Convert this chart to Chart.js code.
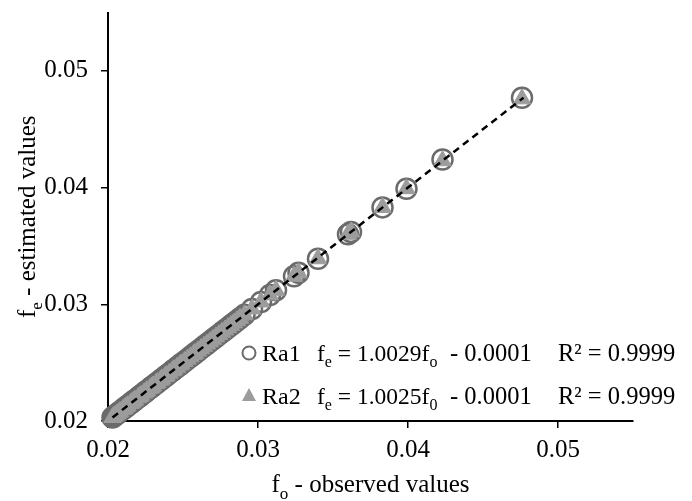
<!DOCTYPE html>
<html><head><meta charset="utf-8">
<script src="https://cdn.jsdelivr.net/npm/chart.js@4/dist/chart.umd.min.js"></script>
<style>html,body{margin:0;padding:0;background:#fff;}canvas{display:block;}</style>
</head><body>
<canvas id="c" width="692" height="501"></canvas>
<script>
// ---- data ----
const ra1X = [0.0203,0.0204,0.0205,0.0206,0.0207,0.0208,0.0210,0.0211,0.0212,0.0213,0.0215,0.0216,0.0217,0.0218,0.0220,0.0221,0.0222,0.0224,0.0225,0.0226,0.0228,0.0229,0.0230,0.0232,0.0233,0.0235,0.0236,0.0238,0.0239,0.0241,0.0243,0.0244,0.0246,0.0248,0.0249,0.0251,0.0253,0.0255,0.0257,0.0258,0.0260,0.0262,0.0264,0.0266,0.0268,0.0270,0.0272,0.0274,0.0276,0.0278,0.0280,0.0282,0.0284,0.0286,0.0288,0.0291,0.0296,0.0302,0.0308,0.0312,0.0324,0.0327,0.0340,0.0360,0.0362,0.0383,0.0399,0.0423,0.0476];
const ra1Y = [0.0203,0.0204,0.0205,0.0206,0.0207,0.0208,0.0210,0.0211,0.0212,0.0213,0.0215,0.0216,0.0217,0.0218,0.0220,0.0221,0.0222,0.0224,0.0225,0.0226,0.0228,0.0229,0.0230,0.0232,0.0233,0.0235,0.0236,0.0238,0.0239,0.0241,0.0243,0.0244,0.0246,0.0248,0.0249,0.0251,0.0253,0.0255,0.0257,0.0258,0.0260,0.0262,0.0264,0.0266,0.0268,0.0270,0.0272,0.0274,0.0276,0.0278,0.0280,0.0282,0.0284,0.0286,0.0288,0.0291,0.0296,0.0302,0.0308,0.0312,0.0324,0.0327,0.0339,0.0360,0.0362,0.0383,0.0399,0.0424,0.0477];
const ra2X = [0.0203,0.0204,0.0205,0.0206,0.0207,0.0208,0.0210,0.0211,0.0212,0.0213,0.0215,0.0216,0.0217,0.0218,0.0220,0.0221,0.0222,0.0224,0.0225,0.0226,0.0228,0.0229,0.0230,0.0232,0.0233,0.0235,0.0236,0.0238,0.0239,0.0241,0.0243,0.0244,0.0246,0.0248,0.0249,0.0251,0.0253,0.0255,0.0257,0.0258,0.0260,0.0262,0.0264,0.0266,0.0268,0.0270,0.0272,0.0274,0.0276,0.0278,0.0280,0.0282,0.0284,0.0286,0.0288,0.0291,0.0296,0.0302,0.0308,0.0312,0.0324,0.0327,0.0340,0.0360,0.0362,0.0383,0.0399,0.0423,0.0476];
const ra2Y = [0.0203,0.0204,0.0205,0.0206,0.0207,0.0208,0.0210,0.0211,0.0212,0.0213,0.0215,0.0216,0.0217,0.0218,0.0220,0.0221,0.0222,0.0224,0.0225,0.0226,0.0228,0.0229,0.0230,0.0232,0.0233,0.0235,0.0236,0.0238,0.0239,0.0241,0.0243,0.0244,0.0246,0.0248,0.0249,0.0251,0.0253,0.0255,0.0257,0.0258,0.0260,0.0262,0.0264,0.0266,0.0268,0.0270,0.0272,0.0274,0.0276,0.0278,0.0280,0.0282,0.0284,0.0286,0.0288,0.0291,0.0296,0.0302,0.0308,0.0312,0.0324,0.0327,0.0339,0.0360,0.0362,0.0383,0.0399,0.0423,0.0476];
const trendX = [0.0203, 0.0477];
const trendY = [0.0203, 0.0477];
const xTicks = [0.02, 0.03, 0.04, 0.05];
const yTicks = [0.02, 0.03, 0.04, 0.05];
const seriesNames = ['Ra1', 'Ra2'];

const FONT = 'Liberation Serif, Times New Roman, serif';
const toPts = (xs, ys) => xs.map((x, i) => ({x: x, y: ys[i]}));

function richWidth(ctx, parts, size, subSize) {
  let w = 0;
  parts.forEach(p => { ctx.font = (p.sub ? subSize : size) + 'px ' + FONT; w += ctx.measureText(p.t).width; });
  return w;
}
function drawRich(ctx, parts, x, y, size, subSize) {
  parts.forEach(p => {
    ctx.font = (p.sub ? subSize : size) + 'px ' + FONT;
    ctx.fillText(p.t, x, y + (p.sub ? Math.round(size * 0.27) : 0));
    x += ctx.measureText(p.t).width;
  });
  return x;
}

const textPlugin = {
  id: 'texts',
  afterDraw(chart) {
    const ctx = chart.ctx;
    const a = chart.chartArea;
    ctx.save();
    ctx.fillStyle = '#000';
    ctx.textBaseline = 'alphabetic';
    ctx.textAlign = 'left';
    // x title
    const xt = [{t:'f'},{t:'o',sub:true},{t:' - observed values'}];
    let w = richWidth(ctx, xt, 25, 17);
    drawRich(ctx, xt, (a.left + a.right) / 2 - w / 2, 492, 25, 17);
    // y title
    const yt = [{t:'f'},{t:'e',sub:true},{t:' - estimated values'}];
    w = richWidth(ctx, yt, 25, 17);
    ctx.save();
    ctx.translate(27, (a.top + a.bottom) / 2);
    ctx.rotate(-Math.PI / 2);
    drawRich(ctx, yt, -w / 2, 8, 25, 17);
    ctx.restore();
    // legend markers
    ctx.beginPath();
    ctx.arc(249, 353, 6.5, 0, Math.PI * 2);
    ctx.lineWidth = 2;
    ctx.strokeStyle = '#6b6b6b';
    ctx.stroke();
    ctx.beginPath();
    ctx.moveTo(249, 388);
    ctx.lineTo(256, 401);
    ctx.lineTo(242, 401);
    ctx.closePath();
    ctx.fillStyle = '#9c9c9c';
    ctx.fill();
    // legend texts
    ctx.fillStyle = '#000';
    const rows = [
      {y: 361, name: seriesNames[0], eq: [{t:'f'},{t:'e',sub:true},{t:' = 1.0029f'},{t:'o',sub:true}]},
      {y: 404, name: seriesNames[1], eq: [{t:'f'},{t:'e',sub:true},{t:' = 1.0025f'},{t:'0',sub:true}]}
    ];
    rows.forEach(r => {
      ctx.font = '24px ' + FONT;
      ctx.fillText(r.name, 262, r.y);
      drawRich(ctx, r.eq, 317, r.y, 23.5, 16);
      ctx.font = '24.5px ' + FONT;
      ctx.fillText('- 0.0001', 450, r.y);
      ctx.fillText('R² = 0.9999', 558, r.y);
    });
    ctx.restore();
  }
};

const axisCommon = {
  type: 'linear',
  min: 0.02,
  max: 0.055,
  grid: { drawOnChartArea: false, drawTicks: true, tickLength: 7, color: '#000', lineWidth: 1.5 },
  border: { display: true, color: '#000', width: 2 },
};

new Chart(document.getElementById('c'), {
  type: 'scatter',
  data: {
    datasets: [
      {
        type: 'line', label: 'trend', data: toPts(trendX, trendY),
        borderColor: '#000', borderWidth: 2.5, borderDash: [7, 5],
        pointRadius: 0, fill: false, order: 0, clip: false
      },
      {
        label: seriesNames[1], data: toPts(ra2X, ra2Y),
        pointStyle: 'triangle', pointRadius: 10,
        backgroundColor: '#9c9c9c', borderColor: '#9c9c9c', borderWidth: 1, order: 1, clip: false
      },
      {
        label: seriesNames[0], data: toPts(ra1X, ra1Y),
        pointStyle: 'circle', pointRadius: 10,
        backgroundColor: 'rgba(255,255,255,0)', borderColor: '#6b6b6b', borderWidth: 2.5, order: 2, clip: false
      }
    ]
  },
  options: {
    responsive: false,
    devicePixelRatio: 1,
    animation: false,
    layout: { padding: { left: 0, top: 10, right: 59, bottom: 0 } },
    plugins: { legend: { display: false }, tooltip: { enabled: false } },
    scales: {
      x: Object.assign({}, axisCommon, {
        position: 'bottom',
        afterBuildTicks: s => { s.ticks = xTicks.map(v => ({value: v})); },
        afterFit: s => { s.height = 80; s.paddingLeft = 0; s.paddingRight = 0; },
        ticks: { color: '#000', padding: 7, maxRotation: 0, font: { family: FONT, size: 25 }, callback: v => Number(v).toFixed(2) }
      }),
      y: Object.assign({}, axisCommon, {
        position: 'left',
        afterBuildTicks: s => { s.ticks = yTicks.map(v => ({value: v})); },
        afterFit: s => { s.width = 108; s.paddingTop = 0; s.paddingBottom = 0; },
        ticks: { color: '#000', padding: 13, font: { family: FONT, size: 25 }, callback: v => Number(v).toFixed(2) }
      })
    }
  },
  plugins: [textPlugin]
});
</script>
</body></html>
